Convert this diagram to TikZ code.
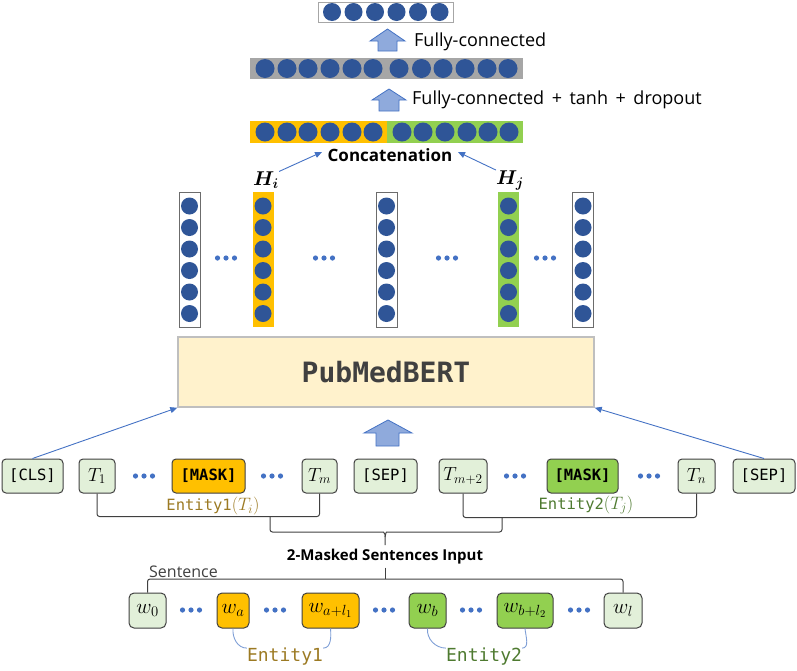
\RequirePackage{fix-cm}
\documentclass[tikz,border=0pt]{standalone}
\usepackage{amsmath,bm}
\usepackage{fontspec}
\setmainfont{Open Sans}
\setmonofont{DejaVu Sans Mono}
\usetikzlibrary{arrows.meta}
\definecolor{dotblue}{HTML}{2F5597}
\definecolor{lineblue}{HTML}{4472C4}
\definecolor{curveblue}{HTML}{7F9FD6}
\definecolor{orng}{HTML}{FFC000}
\definecolor{grn}{HTML}{92D050}
\definecolor{tokfill}{HTML}{E2F0D9}
\definecolor{tokline}{HTML}{404040}
\definecolor{bertfill}{HTML}{FFF2CC}
\definecolor{bertline}{HTML}{BFBFBF}
\definecolor{arrfill}{HTML}{8FAADC}
\definecolor{bargray}{HTML}{A6A6A6}
\definecolor{ent1}{HTML}{9C7A23}
\definecolor{ent2}{HTML}{4E7A30}
\newcommand\mydots[2]{\foreach \k in {-8.5,0,8.5}{\fill[lineblue] (#1+\k,#2) circle (2.6pt);}}
\newcommand\hcol[3]{%
  \node[colbox,#2] (#3) at (#1,259.5) {};
  \foreach \yy in {206,227.5,249,270.5,292,313.5}{\fill[dotblue] (#1,\yy) circle (8.5pt);}}
\newcommand\wsp{\hspace{0.42em}}
\begin{document}
\begin{tikzpicture}[x=1pt,y=-1pt,
  tok/.style={draw=tokline, line width=1pt, rounded corners=4pt, fill=tokfill,
    minimum height=34pt, inner sep=0pt, font=\fontsize{15.5}{18}\selectfont\ttfamily},
  mtok/.style={tok, font=\fontsize{19}{20}\selectfont},
  wbox/.style={tok, minimum height=35pt, rounded corners=5pt, font=\fontsize{21}{22}\selectfont},
  colbox/.style={draw=gray!85!black, line width=0.8pt, fill=white, minimum width=21pt, minimum height=135pt, inner sep=0pt},
  thinarrow/.style={draw=lineblue, line width=0.9pt, -{Triangle[length=7pt,width=6pt]}},
  blockarrow/.style={draw=lineblue, line width=0.8pt, fill=arrfill},
  brk/.style={draw=tokline, line width=1pt, rounded corners=2.5pt},
  ecurve/.style={draw=curveblue, line width=0.9pt},
  lbl/.style={font=\fontsize{18}{20}\selectfont, text=black, inner sep=1pt}]
\useasboundingbox (0,0) rectangle (797,670);

% ---- top output vector
\node[draw=gray!70, line width=0.8pt, fill=white, minimum width=135pt, minimum height=20pt, inner sep=0pt] (out) at (385.5,12) {};
\foreach \xx in {332,353.5,375,396.5,418,439.5}{\fill[dotblue] (\xx,12) circle (9pt);}
\draw[blockarrow] (370,41) -- (387.5,29) -- (405,41) -- (397,41) -- (397,51) -- (378,51) -- (378,41) -- cycle;
\node[lbl, anchor=west] (fc1) at (413,42) {Fully-connected};

% ---- gray FC vector
\node[fill=bargray, minimum width=273pt, minimum height=21pt, inner sep=0pt] (fc) at (386.5,68.5) {};
\foreach \xx in {265,287,308,330,352,373,399,421.5,443,465,487,508}{\fill[dotblue] (\xx,68.5) circle (9.5pt);}
\draw[blockarrow] (372,100) -- (389,89) -- (406,100) -- (399,100) -- (399,111) -- (379,111) -- (379,100) -- cycle;
\node[lbl, anchor=west] (fc2) at (411,100) {Fully-connected\wsp+\wsp tanh\wsp+\wsp dropout};

% ---- concatenation vector
\node[fill=orng, minimum width=137pt, minimum height=22pt, inner sep=0pt] (cat1) at (318.5,132) {};
\node[fill=grn, minimum width=136pt, minimum height=22pt, inner sep=0pt] (cat2) at (455,132) {};
\foreach \xx in {265,287,308,330,352,373,402,423,445,467,488,509}{\fill[dotblue] (\xx,132) circle (9.5pt);}
\node[lbl, font=\fontsize{17}{20}\selectfont\bfseries] (concat) at (390,155) {Concatenation};

% ---- hidden columns
\hcol{189.5}{}{c1}
\hcol{263}{fill=orng, draw=none}{c2}
\hcol{386.5}{}{c3}
\hcol{508.5}{fill=grn, draw=none}{c4}
\hcol{583}{}{c5}
\mydots{226}{258}
\mydots{324}{258}
\mydots{447}{258}
\mydots{545}{258}
\node[inner sep=0pt, font=\fontsize{20}{22}\selectfont] (hi) at (266,180) {$\bm{H_i}$};
\node[inner sep=0pt, font=\fontsize{20}{22}\selectfont] (hj) at (510,180) {$\bm{H_j}$};
\coordinate (hiend) at (322,152);
\coordinate (hjend) at (458,152);
\draw[thinarrow] (hi.north east) -- (hiend);
\draw[thinarrow] (hj.north west) -- (hjend);

% ---- PubMedBERT
\node[draw=bertline, fill=bertfill, line width=1.5pt, minimum width=416pt, minimum height=70pt,
  font=\fontsize{28}{32}\selectfont\ttfamily\bfseries, text=tokline] (bert) at (386,372) {PubMedBERT};
\draw[blockarrow] (364,433) -- (388,420) -- (412,433) -- (399,433) -- (399,446) -- (376,446) -- (376,433) -- cycle;

% ---- token row
\node[tok, minimum width=61pt] (cls) at (32.5,476) {[CLS]};
\node[mtok, minimum width=36pt] (t1) at (97,476) {$T_1$};
\mydots{144}{476}
\node[tok, minimum width=73pt, fill=orng, font=\fontsize{15.5}{18}\selectfont\ttfamily\bfseries] (mask1) at (208.5,476) {[MASK]};
\mydots{272}{476}
\node[mtok, minimum width=35pt] (tm) at (319.5,476) {$T_m$};
\node[tok, minimum width=63pt] (sep1) at (385.5,476) {[SEP]};
\node[mtok, minimum width=48pt] (tm2) at (463,476) {$T_{m+2}$};
\mydots{515}{476}
\node[tok, minimum width=71pt, fill=grn, font=\fontsize{15.5}{18}\selectfont\ttfamily\bfseries] (mask2) at (582.5,476) {[MASK]};
\mydots{649}{476}
\node[mtok, minimum width=37pt] (tn) at (696.5,476) {$T_n$};
\node[tok, minimum width=62pt] (sep2) at (764,476) {[SEP]};

\draw[thinarrow] (cls.north) -- (bert.south west);
\draw[thinarrow] (sep2.north) -- (bert.south east);

\node[font=\fontsize{15.5}{18}\selectfont\ttfamily, text=ent1, inner sep=0pt] (e1lbl) at (213,506) {Entity1{\fontsize{18}{18}\selectfont$(T_i)$}};
\node[font=\fontsize{15.5}{18}\selectfont\ttfamily, text=ent2, inner sep=0pt] (e2lbl) at (586,505) {Entity2{\fontsize{18}{18}\selectfont$(T_j)$}};

% ---- brackets
\draw[brk] (t1.south) -- ++(0,23) -| (tm.south);
\draw[brk] (tm2.south) -- ++(0,24) -| (tn.south);
\coordinate (bl) at (270,516);
\coordinate (br) at (502,517);
\coordinate (btip) at (385,545);
\draw[brk] (bl) |- (381,532) to[out=0,in=90] (385,537) -- (btip);
\draw[brk] (br) |- (389,532) to[out=180,in=90] (385,537);
\node[font=\fontsize{15}{18}\selectfont\bfseries, inner sep=3pt] (mlbl) at (385,557) {2-Masked Sentences Input};

% ---- sentence row
\node[wbox, minimum width=37pt] (w0) at (147.5,610.5) {$w_0$};
\mydots{191}{610}
\node[wbox, minimum width=32pt, fill=orng] (wa) at (233,610.5) {$w_a$};
\mydots{275}{610}
\node[wbox, minimum width=57pt, fill=orng] (wa1) at (330.5,610.5) {$w_{a+l_1}$};
\mydots{384}{610}
\node[wbox, minimum width=37pt, fill=grn] (wb) at (427.5,610.5) {$w_b$};
\mydots{471}{610}
\node[wbox, minimum width=56pt, fill=grn] (wb1) at (525,610.5) {$w_{b+l_2}$};
\mydots{579}{610}
\node[wbox, minimum width=38pt] (wl) at (623,610.5) {$w_l$};

\coordinate (sj) at (385,579);
\draw[brk] (w0.north) |- (sj) -| (wl.north);
\draw[brk] (mlbl.south) -- (sj);
\node[anchor=base west, font=\fontsize{16}{19}\selectfont, text=tokline, inner sep=0pt] (sent) at (149,577) {Sentence};

\node[font=\fontsize{18}{20}\selectfont\ttfamily, text=ent1, inner sep=0pt] (e1) at (285,657) {Entity1};
\node[font=\fontsize{18}{20}\selectfont\ttfamily, text=ent2, inner sep=0pt] (e2) at (484,657) {Entity2};
\draw[ecurve] (wa.south) to[out=-95,in=180] (e1.north west);
\draw[ecurve] (wa1.south) to[out=-85,in=0] (e1.north east);
\draw[ecurve] (wb.south) to[out=-95,in=180] (e2.north west);
\draw[ecurve] (wb1.south) to[out=-85,in=0] (e2.north east);
\end{tikzpicture}
\end{document}
